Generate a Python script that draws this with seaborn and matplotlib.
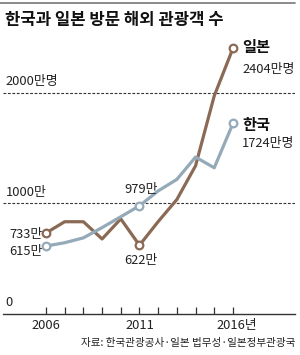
import matplotlib
matplotlib.use("Agg")
import matplotlib.pyplot as plt
import seaborn as sns
import pandas as pd

years = list(range(2006, 2017))
japan = [733, 835, 835, 679, 861, 622, 836, 1036, 1341, 1974, 2404]
korea = [615, 645, 689, 782, 880, 979, 1114, 1218, 1420, 1323, 1724]
tick_years = [2006, 2011, 2016]
tick_labels = ["2006", "2011", "2016년"]
title = "한국과 일본 방문 해외 관광객 수"
source = "자료: 한국관광공사·일본 법무성·일본정부관광국"

sns.set_theme(style="white")
plt.rcParams['font.family'] = ['Noto Sans CJK KR', 'DejaVu Sans']

c_jp = "#8B6A55"
c_kr = "#95AAB9"

df = pd.DataFrame({
    "year": years * 2,
    "value": japan + korea,
    "country": ["일본"] * len(years) + ["한국"] * len(years),
})

W, H = 300, 355
fig = plt.figure(figsize=(W / 100, H / 100), dpi=100)
ax = fig.add_axes([3 / W, (H - 314) / H, 292 / W, 284 / H])

sns.lineplot(data=df, x="year", y="value", hue="country",
             palette={"일본": c_jp, "한국": c_kr}, linewidth=2.3,
             legend=False, ax=ax, zorder=3)

ax.set_xlim(2003.70, 2019.32)
ax.set_ylim(0, 2570)

for ref in (1000, 2000):
    ax.axhline(ref, color="#333333", lw=0.8, ls=(0, (2.5, 1.5)), zorder=1)

# markers
for yr in (2006, 2011, 2016):
    i = years.index(yr)
    for vals, col in ((japan, c_jp), (korea, c_kr)):
        ax.plot(yr, vals[i], marker="o", ms=5.5, mfc="white", mec=col,
                mew=1.6, zorder=5)

for s in ("left", "right", "top"):
    ax.spines[s].set_visible(False)
ax.spines["bottom"].set_color("#333333")
ax.spines["bottom"].set_linewidth(1.0)
ax.set_yticks([])
ax.set_xticks(years)
ax.set_xticklabels([])
ax.tick_params(axis="x", direction="in", length=5, width=0.9, color="#333333", bottom=True)
ax.set_xlabel("")
ax.set_ylabel("")

fs = 9.3
tc = "#222222"
for yr, lab in zip(tick_years, tick_labels):
    dx = 0.2 if lab.endswith("년") else 0
    ax.text(yr + dx, -100, lab, ha="center", va="center", fontsize=fs, color=tc)

ax.text(2003.85, 100, "0", ha="left", va="center", fontsize=fs, color=tc)
ax.text(2003.85, 1100, "1000만", ha="left", va="center", fontsize=fs, color=tc)
ax.text(2003.85, 2100, "2000만명", ha="left", va="center", fontsize=fs, color=tc)

ax.text(2005.8, japan[0] - 10, "733만", ha="right", va="center", fontsize=fs, color=tc)
ax.text(2005.8, korea[0] - 50, "615만", ha="right", va="center", fontsize=fs, color=tc)
ax.text(2011.1, korea[5] + 150, "979만", ha="center", va="center", fontsize=fs, color=tc)
ax.text(2011.1, japan[5] - 140, "622만", ha="center", va="center", fontsize=fs, color=tc)

ax.text(2016.5, japan[-1] + 15, "일본", ha="left", va="center", fontsize=11,
        fontweight="bold", color="#111111")
ax.text(2016.5, japan[-1] - 195, "2404만명", ha="left", va="center", fontsize=fs, color=tc)
ax.text(2016.5, korea[-1] - 10, "한국", ha="left", va="center", fontsize=11,
        fontweight="bold", color="#111111")
ax.text(2016.5, korea[-1] - 185, "1724만명", ha="left", va="center", fontsize=fs, color=tc)

fig.text(5 / W, 1 - 20 / H, title, ha="left", va="center", fontsize=12,
         fontweight="bold", color="#111111")
fig.add_artist(plt.Line2D([0, 295 / W], [1 - 3 / H, 1 - 3 / H], color="#777777", lw=1.2))
fig.text(295 / W, 1 - 343 / H, source, ha="right", va="center", fontsize=7.6, color=tc)

fig.savefig("out.png", dpi=100)
